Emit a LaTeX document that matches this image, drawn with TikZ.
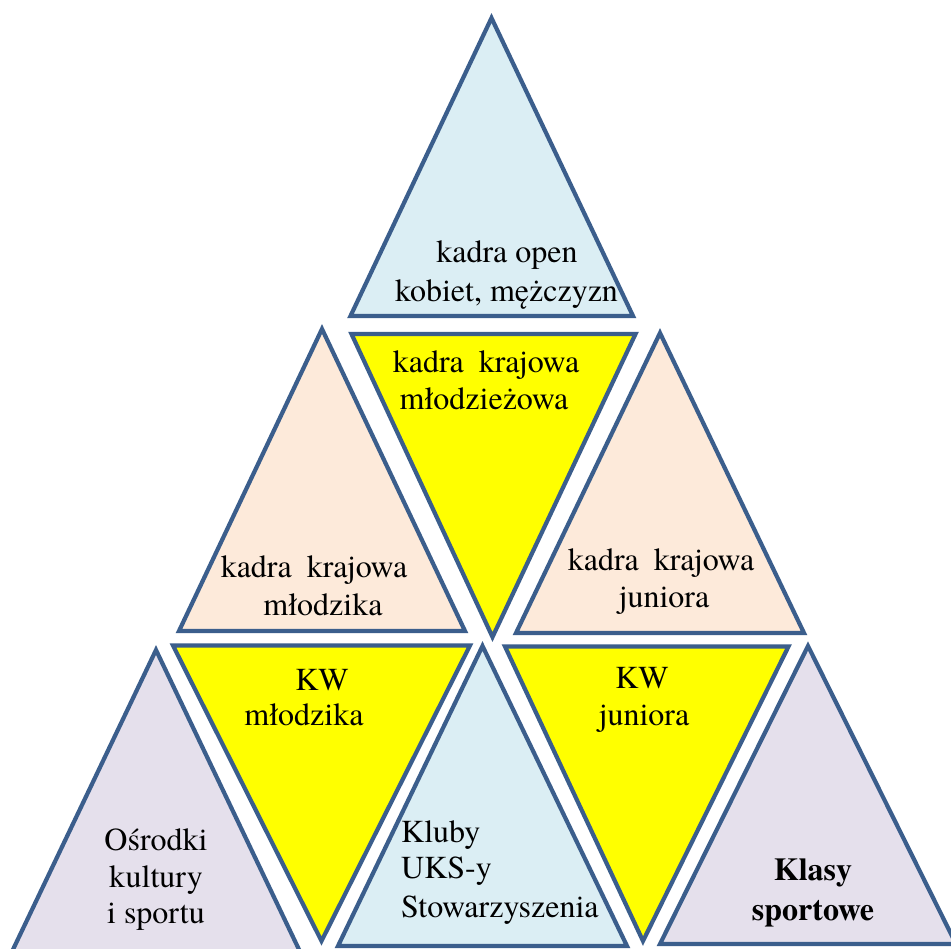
\documentclass[tikz,border=0pt]{standalone}
\usepackage{fontspec}
\setmainfont{texgyretermes}[Extension=.otf, UprightFont=*-regular, BoldFont=*-bold, ItalicFont=*-italic, BoldItalicFont=*-bolditalic]
\definecolor{edge}{HTML}{3B5E8C}
\definecolor{ltblue}{HTML}{DBEEF4}
\definecolor{peach}{HTML}{FDEADA}
\definecolor{lav}{HTML}{E5E0EC}
\definecolor{yel}{HTML}{FFFF00}
\tikzset{
  tri/.style={draw=edge, line width=4.2pt, line join=miter},
  lbl/.style={inner sep=0pt, anchor=base, text=black, font=\rmfamily\fontsize{32}{38}\selectfont},
  lblw/.style={lbl, anchor=base west},
  lblb/.style={lbl, font=\rmfamily\fontsize{32}{38}\selectfont\bfseries}
}
\begin{document}
\begin{tikzpicture}[x=1pt, y=-1pt]
\clip (0,0) rectangle (951,949);
\fill[white] (0,0) rectangle (951,949);
% row 1
\draw[tri, fill=ltblue] (491.5,18) -- (350.5,316) -- (633,316) -- cycle;
% row 2
\draw[tri, fill=peach] (322,329) -- (179,631) -- (465,631) -- cycle;
\draw[tri, fill=yel] (351.5,334) -- (635.5,334) -- (492.5,637) -- cycle;
\draw[tri, fill=peach] (660,333) -- (516,633) -- (804,633) -- cycle;
% row 3
\draw[tri, fill=lav] (156,650) -- (8,960) -- (304,960) -- cycle;
\draw[tri, fill=yel] (173,645.5) -- (470,645.5) -- (321.5,941) -- cycle;
\draw[tri, fill=ltblue] (482.5,646) -- (338,946) -- (627,946) -- cycle;
\draw[tri, fill=yel] (505,646.5) -- (788.5,646.5) -- (643,941) -- cycle;
\draw[tri, fill=lav] (808,646) -- (660,944) -- (956,944) -- cycle;
% labels
\node[lbl] (t1a) at (507,263) {kadra open};
\node[lbl] (t1b) at (506.5,302) {kobiet, mężczyzn};
\node[lbl] (t3a) at (486,373) {kadra\hspace{15pt}krajowa};
\node[lbl] (t3b) at (484,410) {młodzieżowa};
\node[lbl] (t2a) at (314,577) {kadra\hspace{15pt}krajowa};
\node[lbl] (t2b) at (323,615) {młodzika};
\node[lbl] (t4a) at (661,570) {kadra\hspace{15pt}krajowa};
\node[lbl] (t4b) at (664,607) {juniora};
\node[lbl] (t5a) at (156,850) {Ośrodki};
\node[lbl] (t5b) at (156,887) {kultury};
\node[lbl] (t5c) at (156,923) {i sportu};
\node[lbl] (t6a) at (322,690) {KW};
\node[lbl] (t6b) at (304,725) {młodzika};
\node[lblw] (t7a) at (401,842) {Kluby};
\node[lblw] (t7b) at (401,878) {UKS-y};
\node[lblw] (t7c) at (401,917) {Stowarzyszenia};
\node[lbl] (t8a) at (642,688) {KW};
\node[lbl] (t8b) at (644,725) {juniora};
\node[lblb] (t9a) at (813,880) {Klasy};
\node[lblb] (t9b) at (813,920) {sportowe};
\end{tikzpicture}
\end{document}
